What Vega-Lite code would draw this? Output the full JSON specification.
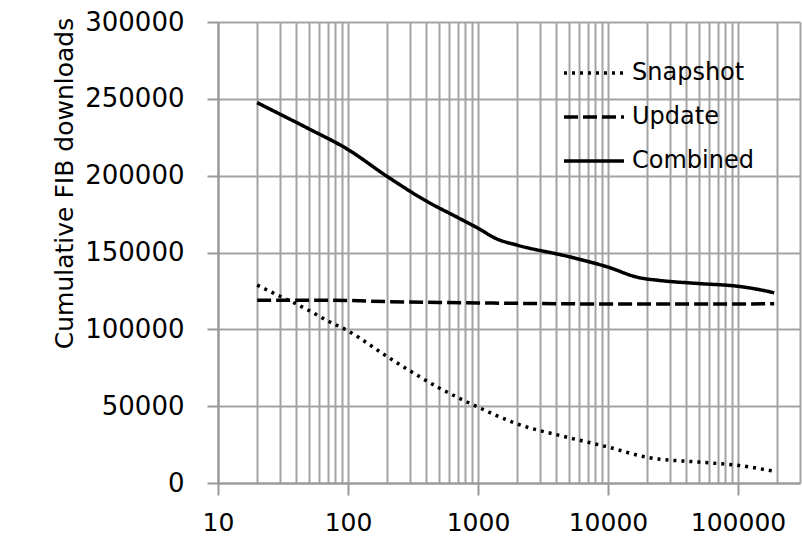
{
  "$schema": "https://vega.github.io/schema/vega-lite/v6.json",
  "width": 582,
  "height": 461,
  "autosize": {"type": "none"},
  "padding": {"left": 218, "top": 22, "right": 2, "bottom": 68},
  "background": "white",
  "config": {
    "view": {"stroke": null},
    "font": "DejaVu Sans",
    "axis": {"labelFont": "DejaVu Sans", "titleFont": "DejaVu Sans", "labelColor": "black", "titleColor": "black"}
  },
  "data": {
    "values": [
      {"x": 20, "series": "Snapshot", "y": 128800},
      {"x": 30, "series": "Snapshot", "y": 121500},
      {"x": 40, "series": "Snapshot", "y": 116500},
      {"x": 50, "series": "Snapshot", "y": 112300},
      {"x": 70, "series": "Snapshot", "y": 105500},
      {"x": 100, "series": "Snapshot", "y": 99000},
      {"x": 200, "series": "Snapshot", "y": 82300},
      {"x": 500, "series": "Snapshot", "y": 62000},
      {"x": 1000, "series": "Snapshot", "y": 49400},
      {"x": 2000, "series": "Snapshot", "y": 38500},
      {"x": 5000, "series": "Snapshot", "y": 29500},
      {"x": 10000, "series": "Snapshot", "y": 23400},
      {"x": 20000, "series": "Snapshot", "y": 16700},
      {"x": 50000, "series": "Snapshot", "y": 13600},
      {"x": 100000, "series": "Snapshot", "y": 11500},
      {"x": 190000, "series": "Snapshot", "y": 7600},
      {"x": 20, "series": "Update", "y": 119000},
      {"x": 50, "series": "Update", "y": 119000},
      {"x": 100, "series": "Update", "y": 118800},
      {"x": 200, "series": "Update", "y": 118000},
      {"x": 500, "series": "Update", "y": 117500},
      {"x": 1000, "series": "Update", "y": 117200},
      {"x": 10000, "series": "Update", "y": 116500},
      {"x": 100000, "series": "Update", "y": 116500},
      {"x": 190000, "series": "Update", "y": 116700},
      {"x": 20, "series": "Combined", "y": 247500},
      {"x": 30, "series": "Combined", "y": 240000},
      {"x": 50, "series": "Combined", "y": 230500},
      {"x": 100, "series": "Combined", "y": 217000},
      {"x": 200, "series": "Combined", "y": 199500},
      {"x": 400, "series": "Combined", "y": 183500},
      {"x": 700, "series": "Combined", "y": 172700},
      {"x": 1000, "series": "Combined", "y": 165800},
      {"x": 1400, "series": "Combined", "y": 158800},
      {"x": 2000, "series": "Combined", "y": 154800},
      {"x": 5000, "series": "Combined", "y": 147300},
      {"x": 10000, "series": "Combined", "y": 140500},
      {"x": 17000, "series": "Combined", "y": 133800},
      {"x": 25000, "series": "Combined", "y": 131800},
      {"x": 50000, "series": "Combined", "y": 129800},
      {"x": 100000, "series": "Combined", "y": 128000},
      {"x": 130000, "series": "Combined", "y": 126600},
      {"x": 190000, "series": "Combined", "y": 123800}
    ]
  },
  "mark": {"type": "line", "color": "black", "strokeWidth": 3.5, "strokeCap": "butt", "interpolate": "monotone"},
  "encoding": {
    "x": {
      "field": "x", "type": "quantitative",
      "scale": {"type": "log", "domain": [10, 300000], "nice": false},
      "axis": {
        "title": null,
        "values": [10,20,30,40,50,60,70,80,90,100,200,300,400,500,600,700,800,900,1000,2000,3000,4000,5000,6000,7000,8000,9000,10000,20000,30000,40000,50000,60000,70000,80000,90000,100000,200000,300000],
        "labelExpr": "indexof([10,100,1000,10000,100000], datum.value) >= 0 ? format(datum.value, 'd') : ''",
        "labelFontSize": 25,
        "labelPadding": 15,
        "labelFlush": false,
        "labelOverlap": false,
        "tickSize": {"condition": {"test": "indexof([10,100,1000,10000,100000], datum.value) >= 0", "value": 12}, "value": 0},
        "tickColor": "#999999",
        "tickWidth": 2,
        "domainColor": "#999999",
        "domainWidth": 2,
        "grid": true,
        "gridColor": "#a3a3a3",
        "gridWidth": 2
      }
    },
    "y": {
      "field": "y", "type": "quantitative",
      "scale": {"domain": [0, 300000], "nice": false},
      "axis": {
        "title": "Cumulative FIB downloads",
        "titleFontSize": 25,
        "titleFontWeight": "normal",
        "titleAngle": -90,
        "titleAlign": "center",
        "titleBaseline": "alphabetic",
        "titleX": -146,
        "titleY": 161,
        "values": [0, 50000, 100000, 150000, 200000, 250000, 300000],
        "format": "d",
        "labelFontSize": 26,
        "labelPadding": 23,
        "tickSize": 11,
        "tickColor": "#999999",
        "tickWidth": 2,
        "domainColor": "#999999",
        "domainWidth": 2,
        "grid": true,
        "gridColor": "#a3a3a3",
        "gridWidth": 2
      }
    },
    "strokeDash": {
      "field": "series", "type": "nominal",
      "scale": {"domain": ["Snapshot", "Update", "Combined"], "range": [[3, 5], [14, 5], [1, 0]]},
      "legend": {
        "title": null,
        "orient": "none",
        "legendX": 344,
        "legendY": 19,
        "symbolType": "stroke",
        "symbolSize": 3600,
        "symbolStrokeWidth": 3.5,
        "symbolStrokeColor": "black",
        "labelFontSize": 24,
        "labelColor": "black",
        "labelOffset": 6,
        "rowPadding": 0
      }
    }
  }
}
